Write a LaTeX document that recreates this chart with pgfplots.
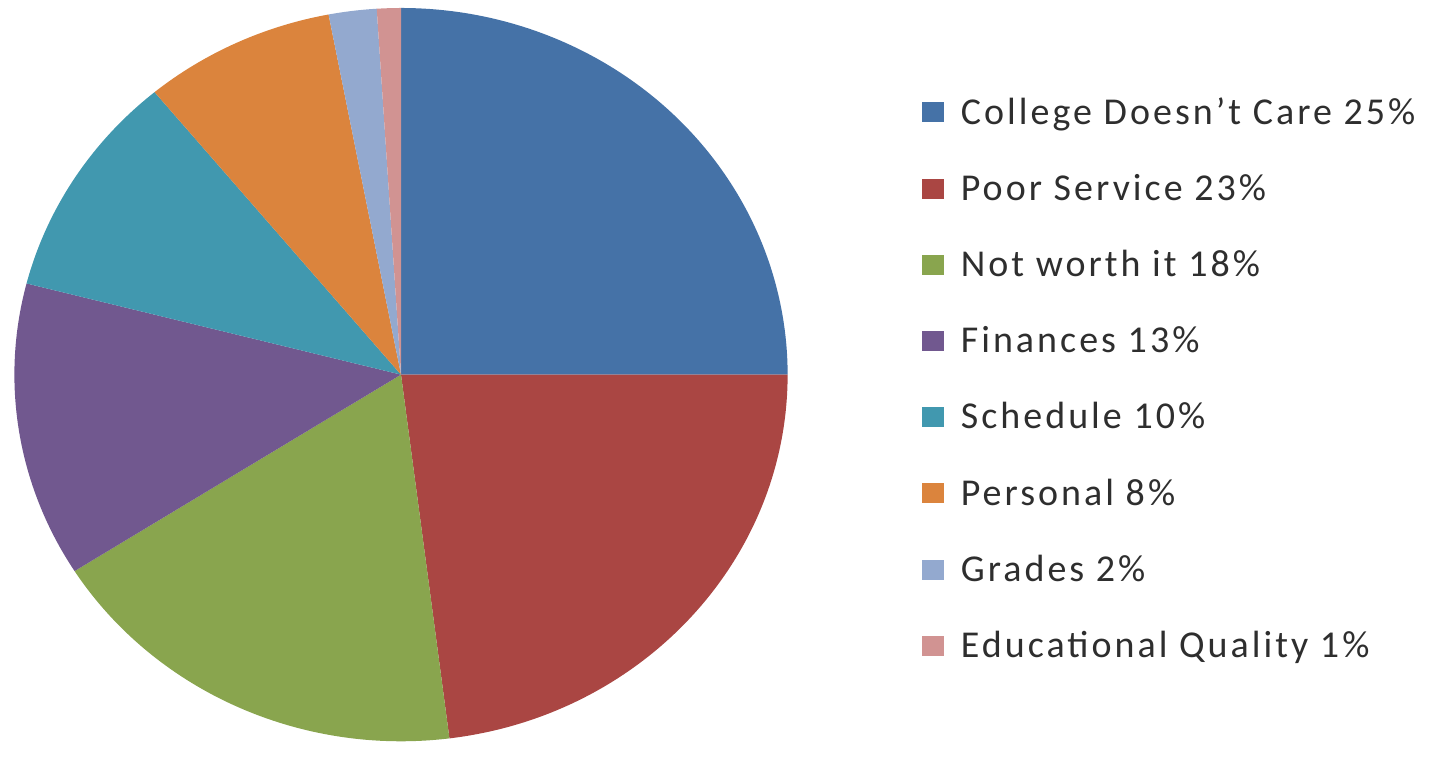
\documentclass[border=0pt]{standalone}
\usepackage{fontspec}
\setmainfont{Carlito}
\newfontfamily\legfont[LetterSpace=8]{Carlito}
\usepackage{pgfplots}
\pgfplotsset{compat=1.18}
\definecolor{pieA}{HTML}{4572A7}
\definecolor{pieB}{HTML}{AA4643}
\definecolor{pieC}{HTML}{89A54E}
\definecolor{pieD}{HTML}{71588F}
\definecolor{pieE}{HTML}{4198AF}
\definecolor{pieF}{HTML}{DB843D}
\definecolor{pieG}{HTML}{93A9CF}
\definecolor{pieH}{HTML}{D19392}
\begin{document}
\begin{tikzpicture}
\begin{axis}[
  hide axis, scale only axis,
  width=718pt, height=371.5pt,
  xmin=0, xmax=1436, ymin=0, ymax=743,
  clip=false,
  legend cell align=left,
  legend style={draw=none, fill=none, at={(axis cs:915,655)}, anchor=north west,
    font=\legfont\fontsize{19}{21}\selectfont, row sep=18.5pt,
    nodes={inner sep=2.5pt}, text=black!82},
  legend image code/.code={\fill[#1] (0pt,-5pt) rectangle (11pt,5pt); \path (17pt,0pt);},
]
\path (rel axis cs:0,0) rectangle (rel axis cs:1,1);
\xdef\startangle{90}
\foreach \val/\col in {25/pieA,23/pieB,18/pieC,13/pieD,10/pieE,8/pieF,2/pieG,1/pieH} {
  \pgfmathsetmacro{\endangle}{\startangle-3.6*\val}
  \edef\temp{\noexpand\fill[\col] (axis cs:400,368) -- ++(\startangle:193.5pt and 183.5pt) arc[start angle=\startangle, end angle=\endangle, x radius=193.5pt, y radius=183.5pt] -- cycle;}
  \temp
  \xdef\startangle{\endangle}
}
\addlegendimage{fill=pieA, draw=none}\addlegendentry{College Doesn’t Care 25\%}
\addlegendimage{fill=pieB, draw=none}\addlegendentry{Poor Service 23\%}
\addlegendimage{fill=pieC, draw=none}\addlegendentry{Not worth it 18\%}
\addlegendimage{fill=pieD, draw=none}\addlegendentry{Finances 13\%}
\addlegendimage{fill=pieE, draw=none}\addlegendentry{Schedule 10\%}
\addlegendimage{fill=pieF, draw=none}\addlegendentry{Personal 8\%}
\addlegendimage{fill=pieG, draw=none}\addlegendentry{Grades 2\%}
\addlegendimage{fill=pieH, draw=none}\addlegendentry{Educational Quality 1\%}
\end{axis}
\end{tikzpicture}
\end{document}
